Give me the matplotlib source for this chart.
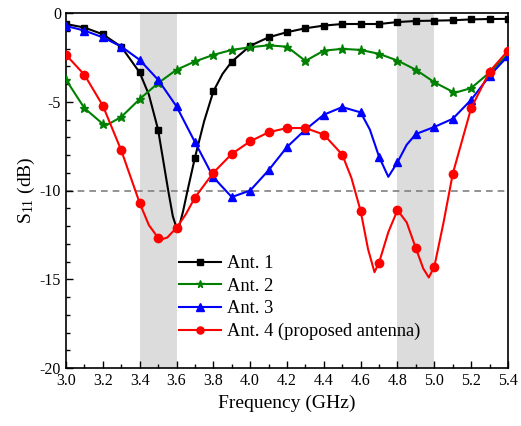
import numpy as np
import matplotlib
matplotlib.use("Agg")
import matplotlib.pyplot as plt
from matplotlib.ticker import MultipleLocator

plt.rcParams['font.family'] = ['Liberation Serif', 'DejaVu Serif']
plt.rcParams['mathtext.fontset'] = 'stix'
plt.rcParams['axes.unicode_minus'] = False

# ---- data ----
ant1_f = [3.0, 3.1, 3.2, 3.3, 3.4, 3.45, 3.5, 3.555, 3.58, 3.6, 3.61, 3.635, 3.66, 3.7, 3.75, 3.8, 3.85, 3.9,
          4.0, 4.1, 4.2, 4.3, 4.4, 4.5, 4.6, 4.7, 4.8, 4.9, 5.0, 5.1, 5.2, 5.3, 5.4]
ant1_s = [-0.62, -0.82, -1.2, -1.9, -3.35, -4.6, -6.57, -10.0, -11.45, -12.1, -12.2, -11.2, -10.0, -8.15, -6.1, -4.42, -3.43, -2.74,
          -1.85, -1.37, -1.08, -0.86, -0.71, -0.62, -0.62, -0.62, -0.51, -0.45, -0.43, -0.41, -0.36, -0.34, -0.33]

ant2_f = [3.0, 3.1, 3.2, 3.22, 3.3, 3.4, 3.5, 3.6, 3.7, 3.8, 3.9, 4.0, 4.1, 4.2, 4.3, 4.4, 4.5, 4.6, 4.7,
          4.8, 4.9, 5.0, 5.1, 5.12, 5.2, 5.3, 5.4]
ant2_s = [-3.76, -5.36, -6.25, -6.32, -5.86, -4.85, -3.95, -3.2, -2.73, -2.36, -2.08, -1.93, -1.82, -1.9, -2.7, -2.12, -2.02, -2.08, -2.3,
          -2.68, -3.2, -3.9, -4.44, -4.47, -4.23, -3.35, -2.32]

ant3_f = [3.0, 3.1, 3.2, 3.3, 3.4, 3.5, 3.6, 3.7, 3.8, 3.9, 4.0, 4.1, 4.2, 4.3, 4.4, 4.5, 4.6, 4.65, 4.7,
          4.75, 4.8, 4.85, 4.9, 5.0, 5.1, 5.2, 5.3, 5.4]
ant3_s = [-0.73, -0.99, -1.37, -1.89, -2.64, -3.76, -5.26, -7.27, -9.25, -10.37, -10.0, -8.86, -7.55, -6.57, -5.73, -5.3, -5.6, -6.57, -8.1,
          -9.23, -8.41, -7.42, -6.82, -6.42, -5.96, -4.89, -3.54, -2.42]

ant4_f = [3.0, 3.1, 3.2, 3.3, 3.4, 3.45, 3.5, 3.52, 3.55, 3.6, 3.65, 3.7, 3.8, 3.9, 4.0, 4.1, 4.2, 4.3, 4.4, 4.5,
          4.55, 4.6, 4.64, 4.675, 4.7, 4.75, 4.8, 4.85, 4.9, 4.94, 4.97, 5.0, 5.05, 5.1, 5.2, 5.3, 5.4]
ant4_s = [-2.36, -3.48, -5.22, -7.74, -10.7, -11.95, -12.66, -12.75, -12.65, -12.1, -11.35, -10.4, -9.0, -7.94, -7.23, -6.72, -6.48, -6.48, -6.85, -7.98,
          -9.3, -11.16, -13.3, -14.6, -14.06, -12.35, -11.1, -11.8, -13.26, -14.4, -14.9, -14.29, -11.8, -9.06, -5.36, -3.3, -2.12]

labels = ['Ant. 1', 'Ant. 2', 'Ant. 3', 'Ant. 4 (proposed antenna)']
bands = [(3.4, 3.6), (4.8, 5.0)]
threshold = -10
x_ticks = [3.0, 3.2, 3.4, 3.6, 3.8, 4.0, 4.2, 4.4, 4.6, 4.8, 5.0, 5.2, 5.4]
y_ticks = [0, -5, -10, -15, -20]

# ---- figure ----
fig = plt.figure(figsize=(5.21, 4.26), dpi=100)
ax = fig.add_axes([66/521, 1-368/426, 442/521, 355/426])

for lo, hi in bands:
    ax.axvspan(lo, hi, color='#dcdcdc', zorder=0, lw=0)
ax.axhline(threshold, color='#808080', ls=(0, (4, 3)), lw=1.2, zorder=1)

def grid_idx(f):
    f = np.asarray(f)
    return list(np.where(np.isclose(f*10, np.round(f*10)))[0])

series = [
    (ant1_f, ant1_s, 'black', 's', 4.5),
    (ant2_f, ant2_s, '#008000', '*', 6.5),
    (ant3_f, ant3_s, '#0000ff', '^', 6),
    (ant4_f, ant4_s, '#ff0000', 'o', 6),
]
for (f, s, c, m, ms), lab in zip(series, labels):
    ax.plot(f, s, color=c, marker=m, ms=ms, lw=1.5, markevery=grid_idx(f),
            label=lab, zorder=3)

ax.set_xlim(3.0, 5.4)
ax.set_ylim(-20, 0)
ax.set_xticks(x_ticks)
ax.set_xticklabels([f'{v:.1f}' for v in x_ticks])
ax.set_yticks(y_ticks)
ax.set_yticklabels([str(v) for v in y_ticks])
ax.xaxis.set_minor_locator(MultipleLocator(0.1))
ax.yaxis.set_minor_locator(MultipleLocator(1))
ax.tick_params(which='both', direction='in', labelsize=11.5, top=False, right=False)
ax.tick_params(which='major', length=5, width=1)
ax.tick_params(which='minor', length=3, width=1)
for sp in ax.spines.values():
    sp.set_linewidth(1.2)

ax.set_xlabel('Frequency (GHz)', fontsize=14, labelpad=4)
ax.set_ylabel(r'S$_{\mathregular{11}}$ (dB)', fontsize=14, labelpad=2)

leg = ax.legend(loc='upper left', bbox_to_anchor=(0.255, 0.318), frameon=False,
                fontsize=13.3, handlelength=2.3, handletextpad=0.3, markerscale=0.85,
                labelspacing=0.3, borderpad=0, borderaxespad=0)

fig.savefig('out.png', dpi=100)
